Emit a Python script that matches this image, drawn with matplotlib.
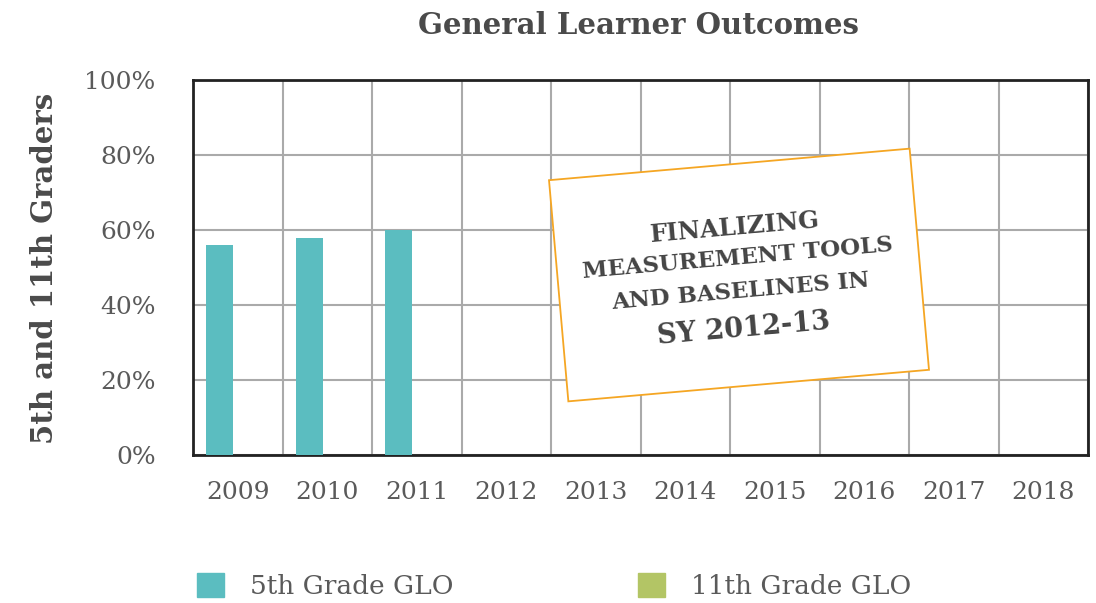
import matplotlib.pyplot as plt
import matplotlib.patches as mpatches
from matplotlib.transforms import Affine2D
import numpy as np

years = ['2009', '2010', '2011', '2012', '2013', '2014', '2015', '2016', '2017', '2018']
grade5 = [56, 58, 60, None, None, None, None, None, None, None]
grade11 = [None] * 10
y_ticks = [0, 20, 40, 60, 80, 100]
note_lines = ['FINALIZING', 'MEASUREMENT TOOLS', 'AND BASELINES IN', 'SY 2012-13']

teal = '#5bbdc0'
green = '#b3c565'
gray_txt = '#5a5a5a'

plt.rcParams['font.family'] = ['DejaVu Serif']

W, H = 1096, 603
fig = plt.figure(figsize=(W / 100, H / 100), dpi=100)
ax = fig.add_axes([193 / W, 1 - 455 / H, 895 / W, 375 / H])

x = np.arange(len(years))
v5 = [np.nan if v is None else v for v in grade5]
v11 = [np.nan if v is None else v for v in grade11]
ax.bar(x - 0.2, v5, width=0.3, color=teal, zorder=3)
ax.bar(x + 0.2, v11, width=0.3, color=green, zorder=3)

ax.set_xlim(-0.5, len(years) - 0.5)
ax.set_ylim(0, 100)
ax.set_yticks(y_ticks)
ax.set_yticklabels([f'{t}%' for t in y_ticks])
ax.set_xticks(x)
ax.set_xticklabels(years)
ax.set_xticks(np.arange(-0.5, len(years)), minor=True)
ax.tick_params(which='both', length=0, labelsize=18, colors=gray_txt)
ax.tick_params(axis='x', pad=19)
ax.tick_params(axis='y', pad=27)
ax.grid(True, which='minor', axis='x', color='#aaaaaa', linewidth=1.5, zorder=0)
ax.grid(True, which='major', axis='y', color='#aaaaaa', linewidth=1.5, zorder=0)
for s in ax.spines.values():
    s.set_linewidth(2)
    s.set_color('#222222')

fig.text(638 / W, 1 - 25 / H, 'General Learner Outcomes', ha='center', va='center',
         fontsize=21, fontweight='bold', color='#4a4a4a')
fig.text(45 / W, 1 - 268 / H, '5th and 11th Graders', ha='center', va='center',
         rotation=90, fontsize=21, fontweight='bold', color='#4a4a4a')

# rotated note box, pixel coords -> figure fraction
cx, cy = 739, H - 275
tr = Affine2D().rotate_deg_around(cx, cy, 5).scale(1 / W, 1 / H) + fig.transFigure
box = mpatches.Rectangle((cx - 181, cy - 111), 362, 222, facecolor='white',
                         edgecolor='#f5a623', linewidth=1.3, transform=tr, zorder=5)
fig.add_artist(box)
offsets = [48, 17, -17, -54]
sizes = [17.5, 16.5, 16.5, 19.5]
for line, off, fs in zip(note_lines, offsets, sizes):
    fig.text(cx, cy + off, line, transform=tr, rotation=5, ha='center', va='center',
             rotation_mode='anchor', fontsize=fs, fontweight='bold', color='#444444', zorder=6)

handles = [mpatches.Patch(color=teal, label='5th Grade GLO'),
           mpatches.Patch(color=green, label='11th Grade GLO')]
fig.legend(handles=handles, loc='center left', bbox_to_anchor=(173 / W, 1 - 586 / H),
           ncol=2, frameon=False, fontsize=19, handlelength=1.05, handleheight=1.05,
           handletextpad=0.95, columnspacing=7.0, labelcolor=gray_txt)

fig.savefig('out.png', dpi=100, facecolor='white')
